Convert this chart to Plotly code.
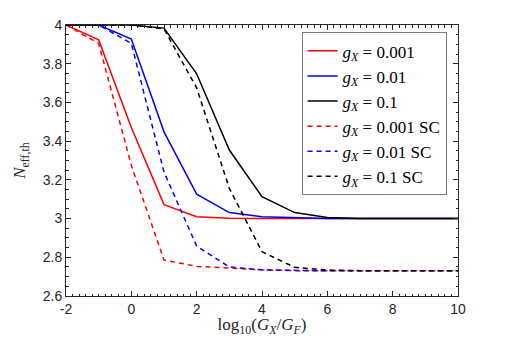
import plotly.graph_objects as go

# log10(G_X/G_F) grid
x = [-2, -1, 0, 1, 2, 3, 4, 5, 6, 7, 8, 9, 10]

# N_eff,th, full calculation
n_001 = [4.0, 3.923, 3.47, 3.072, 3.01, 3.002, 3.0, 3.0, 3.0, 3.0, 3.0, 3.0, 3.0]
n_01 = [4.0, 4.0, 3.928, 3.448, 3.126, 3.031, 3.01, 3.004, 3.001, 3.0, 3.0, 3.0, 3.0]
n_1 = [4.0, 4.0, 4.0, 3.984, 3.748, 3.354, 3.113, 3.031, 3.006, 3.001, 3.0, 3.0, 3.0]
# SC approximation
n_001_sc = [4.0, 3.905, 3.275, 2.786, 2.753, 2.744, 2.735, 2.731, 2.73, 2.73, 2.73, 2.73, 2.73]
n_01_sc = [4.0, 4.0, 3.905, 3.24, 2.858, 2.75, 2.735, 2.731, 2.73, 2.73, 2.73, 2.73, 2.73]
n_1_sc = [4.0, 4.0, 4.0, 3.98, 3.675, 3.156, 2.829, 2.748, 2.734, 2.731, 2.73, 2.73, 2.73]

names = ["0.001", "0.01", "0.1"]
x_ticks = [-2, 0, 2, 4, 6, 8, 10]
x_ticktext = ["-2", "0", "2", "4", "6", "8", "10"]
y_ticks = [2.6, 2.8, 3.0, 3.2, 3.4, 3.6, 3.8, 4.0]
y_ticktext = ["2.6", "2.8", "3", "3.2", "3.4", "3.6", "3.8", "4"]

RED, BLUE, BLACK = "#ff0000", "#0000ff", "#000000"
SERIF = "Liberation Serif, DejaVu Serif, serif"
SANS = "Liberation Sans, Arial, sans-serif"
INK = "#262626"

fig = go.Figure()
series = [(n_001, RED), (n_01, BLUE), (n_1, BLACK)]
for (y, col), nm in zip(series, names):
    fig.add_trace(go.Scatter(x=x, y=y, mode="lines", line=dict(color=col, width=1.5),
                             name=f"<i>g</i><sub><i>X</i></sub> = {nm}"))
series_sc = [(n_001_sc, RED), (n_01_sc, BLUE), (n_1_sc, BLACK)]
for (y, col), nm in zip(series_sc, names):
    fig.add_trace(go.Scatter(x=x, y=y, mode="lines",
                             line=dict(color=col, width=1.5, dash="5px,4px"),
                             name=f"<i>g</i><sub><i>X</i></sub> = {nm} SC"))

axis_common = dict(showline=True, linecolor=INK, linewidth=1, mirror="allticks",
                   ticks="inside", ticklen=5, tickcolor=INK, showgrid=False,
                   zeroline=False, automargin=False,
                   tickfont=dict(family=SANS, size=14, color=INK))
fig.update_xaxes(range=[-2, 10], tickvals=x_ticks, ticktext=x_ticktext,
                 minor=dict(dtick=0.2, ticks="inside", ticklen=2.5, tickcolor=INK),
                 title=dict(text="log<sub>10</sub>(<i>G<sub>X</sub></i>/<i>G<sub>F</sub></i>)",
                            font=dict(family=SERIF, size=17, color=INK), standoff=9),
                 **axis_common)
fig.update_yaxes(range=[2.6, 4], tickvals=y_ticks, ticktext=y_ticktext,
                 minor=dict(dtick=0.05, ticks="inside", ticklen=2.5, tickcolor=INK),
                 title=dict(text="<i>N</i><sub>eff,th</sub>",
                            font=dict(family=SERIF, size=17, color=INK), standoff=12),
                 **axis_common)

# page body adds an 8px margin, so the figure is 8px smaller and shifted
fig.update_layout(
    width=498, height=329,
    margin=dict(l=58, r=48, t=17, b=41),
    paper_bgcolor="white", plot_bgcolor="white",
    legend=dict(x=0.601, y=0.973, xanchor="left", yanchor="top",
                bgcolor="white", bordercolor="#808080", borderwidth=1,
                font=dict(family=SERIF, size=17, color="#000000"),
                itemwidth=30, tracegroupgap=0),
    showlegend=True,
)

fig.write_html("out.html")
